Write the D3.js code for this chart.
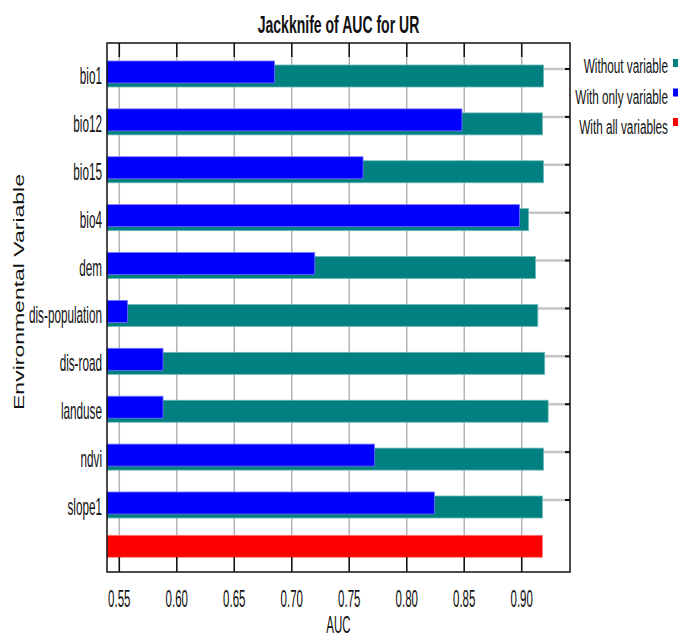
<!DOCTYPE html>
<html>
<head>
<meta charset="utf-8">
<script src="https://cdn.jsdelivr.net/npm/d3@7"></script>
<style>
  html, body { margin: 0; padding: 0; background: #fff; }
  svg { display: block; }
  text { font-family: "Liberation Sans", Arial, sans-serif; fill: #111; }
</style>
</head>
<body>
<svg id="chart" width="683" height="637"></svg>
<script>
// Jackknife test of variable importance (AUC), Maxent output for UR
const categories = ["bio1", "bio12", "bio15", "bio4", "dem", "dis-population", "dis-road", "landuse", "ndvi", "slope1"];
const withoutVariable = [0.919, 0.918, 0.919, 0.906, 0.912, 0.914, 0.920, 0.923, 0.919, 0.918];
const withOnlyVariable = [0.685, 0.848, 0.762, 0.898, 0.720, 0.557, 0.588, 0.588, 0.772, 0.824];
const withAllVariables = 0.918;
const tickValues = [0.55, 0.60, 0.65, 0.70, 0.75, 0.80, 0.85, 0.90];
const legendLabels = ["Without variable", "With only variable", "With all variables"];
const colors = { without: "#008080", only: "#0000ff", all: "#ff0000" };

const svg = d3.select("#chart");
const plot = { left: 107, right: 570, top: 43, bottom: 572 };

const x = d3.scaleLinear().domain([0.5393, 0.942]).range([plot.left, plot.right]);
// row index -> y of the row's grid line; the "all variables" bar sits just below the last row
const allRowIndex = 9.82;
const y = d3.scaleLinear().domain([0, 9]).range([69, 500]);
const barH = 22;

// horizontally condensed text, as in the exported Java chart
function squeezed(sel, sx) {
  sel.attr("transform", function () {
    const tx = +this.getAttribute("data-x"), ty = +this.getAttribute("data-y");
    const rot = this.getAttribute("data-rot");
    return `translate(${tx},${ty}) scale(${sx},1)` + (rot ? ` rotate(${rot})` : "");
  });
}

// vertical grid lines
svg.append("g").selectAll("line").data(tickValues).join("line")
  .attr("x1", d => x(d)).attr("x2", d => x(d))
  .attr("y1", plot.top).attr("y2", plot.bottom)
  .attr("stroke", "#b4b4b4").attr("stroke-width", 1.5);

// horizontal grid lines at each variable row
svg.append("g").selectAll("line").data(categories).join("line")
  .attr("x1", plot.left).attr("x2", plot.right)
  .attr("y1", (d, i) => y(i)).attr("y2", (d, i) => y(i))
  .attr("stroke", "#c4c4c4").attr("stroke-width", 2.5);

// bars: without variable (teal), with only variable (blue)
svg.append("g").selectAll("rect").data(withoutVariable).join("rect")
  .attr("x", x.range()[0])
  .attr("y", (d, i) => y(i) - 4)
  .attr("width", d => x(d) - x.range()[0])
  .attr("height", barH)
  .attr("fill", colors.without)
  .attr("stroke", "#6fb8b8").attr("stroke-width", 0.8);

svg.append("g").selectAll("rect").data(withOnlyVariable).join("rect")
  .attr("x", x.range()[0])
  .attr("y", (d, i) => y(i) - 8)
  .attr("width", d => x(d) - x.range()[0])
  .attr("height", barH)
  .attr("fill", colors.only)
  .attr("stroke", "#7070ff").attr("stroke-width", 0.8);

svg.append("rect")
  .attr("x", x.range()[0])
  .attr("y", y(allRowIndex) - 4)
  .attr("width", x(withAllVariables) - x.range()[0])
  .attr("height", barH)
  .attr("fill", colors.all)
  .attr("stroke", "#ff8080").attr("stroke-width", 0.8);

// frame
svg.append("rect")
  .attr("x", plot.left).attr("y", plot.top)
  .attr("width", plot.right - plot.left).attr("height", plot.bottom - plot.top)
  .attr("fill", "none").attr("stroke", "#111").attr("stroke-width", 1.5);

// tick marks: top and bottom (inward), right side at rows
const tickG = svg.append("g").attr("stroke", "#111").attr("stroke-width", 1.5);
tickG.selectAll(".tt").data(tickValues).join("line")
  .attr("x1", d => x(d)).attr("x2", d => x(d)).attr("y1", plot.top).attr("y2", plot.top + 14);
tickG.selectAll(".tb").data(tickValues).join("line")
  .attr("x1", d => x(d)).attr("x2", d => x(d)).attr("y1", plot.bottom - 15).attr("y2", plot.bottom);
tickG.selectAll(".tr").data(categories).join("line")
  .attr("x1", plot.right - 5).attr("x2", plot.right)
  .attr("y1", (d, i) => y(i)).attr("y2", (d, i) => y(i)).attr("stroke-width", 2);

// x tick labels
const fmt = d3.format(".2f");
svg.append("g").selectAll("text").data(tickValues).join("text")
  .attr("data-x", d => x(d)).attr("data-y", 607)
  .attr("text-anchor", "middle").attr("font-size", 23)
  .text(d => fmt(d))
  .call(squeezed, 0.5);

// variable labels
svg.append("g").selectAll("text").data(categories).join("text")
  .attr("data-x", plot.left - 5).attr("data-y", (d, i) => y(i) + 7)
  .attr("dy", "0.35em")
  .attr("text-anchor", "end").attr("font-size", 23)
  .text(d => d)
  .call(squeezed, 0.51);

// title
svg.append("text")
  .attr("data-x", (plot.left + plot.right) / 2).attr("data-y", 33)
  .attr("text-anchor", "middle").attr("font-size", 23).attr("font-weight", "bold")
  .text("Jackknife of AUC for UR")
  .call(squeezed, 0.61);

// axis titles
svg.append("text")
  .attr("data-x", (plot.left + plot.right) / 2).attr("data-y", 633)
  .attr("text-anchor", "middle").attr("font-size", 23)
  .text("AUC")
  .call(squeezed, 0.5);

svg.append("text")
  .attr("data-x", 24).attr("data-y", 292).attr("data-rot", -90)
  .attr("text-anchor", "middle").attr("font-size", 23)
  .text("Environmental Variable")
  .call(squeezed, 0.62);

// legend
const legendColors = [colors.without, colors.only, colors.all];
const lg = svg.append("g");
lg.selectAll("text").data(legendLabels).join("text")
  .attr("data-x", 668).attr("data-y", (d, i) => 73 + i * 30.5)
  .attr("text-anchor", "end").attr("font-size", 21)
  .text(d => d)
  .call(squeezed, 0.56);
lg.selectAll("rect").data(legendColors).join("rect")
  .attr("x", 673).attr("y", (d, i) => 59 + i * 29.5)
  .attr("width", 5).attr("height", 8)
  .attr("fill", d => d);
</script>
</body>
</html>
